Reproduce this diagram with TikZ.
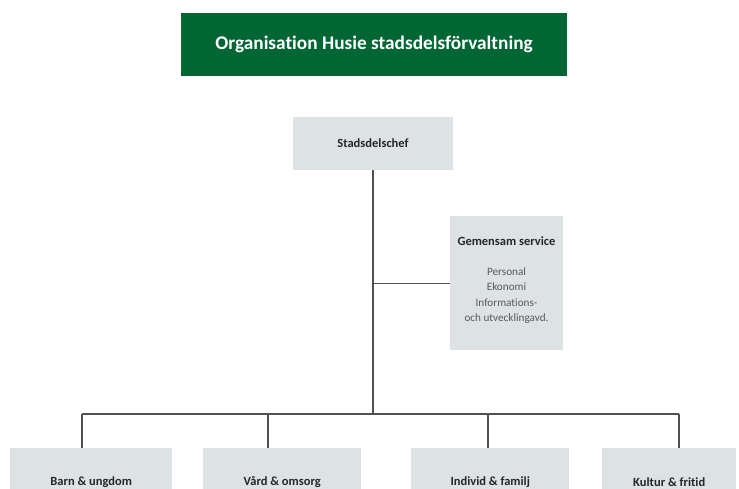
\documentclass[tikz,border=0pt]{standalone}
\usepackage{fontspec}
\setmainfont{Carlito}[Ligatures=NoCommon]
\definecolor{husiegreen}{HTML}{006633}
\definecolor{boxgrey}{HTML}{DDE2E5}
\definecolor{linegrey}{HTML}{505050}
\begin{document}
\begin{tikzpicture}[x=1pt,y=-1pt,
    unitbox/.style={fill=boxgrey, inner sep=0pt, font=\bfseries\fontsize{12.5}{14}\selectfont, text=black!85},
    orgline/.style={draw=linegrey, line width=1.3pt}]
    \useasboundingbox (0,0) rectangle (739,489);
    % title
    \node[fill=husiegreen, text=white, minimum width=386pt, minimum height=63pt, inner sep=0pt,
        font=\bfseries\fontsize{19.3}{22}\selectfont] (title) at (374,44.5) {Organisation Husie stadsdelsförvaltning};
    % top and staff unit
    \node[unitbox, minimum width=160pt, minimum height=53pt] (chef) at (373,143.5) {Stadsdelschef};
    \node[unitbox, minimum width=113pt, minimum height=134pt, anchor=north west] (service) at (450,216) {};
    \node[font=\bfseries\fontsize{12.5}{14}\selectfont, text=black!85] (servicehead) at (506.5,241) {Gemensam service};
    \node[align=center, font=\fontsize{11.2}{15.5}\selectfont, text=black!65, anchor=north] (servicebody) at (506.5,264)
        {Personal\\Ekonomi\\Informations-\\och utvecklingavd.};
    % departments (cut off by the lower edge)
    \node[unitbox, minimum width=162pt, minimum height=68pt, anchor=north west] (barn) at (10,448) {Barn \& ungdom};
    \node[unitbox, minimum width=158pt, minimum height=68pt, anchor=north west] (vard) at (203,448) {Vård \& omsorg};
    \node[unitbox, minimum width=158pt, minimum height=68pt, anchor=north west] (individ) at (411,448) {Individ \& familj};
    \node[unitbox, minimum width=134pt, minimum height=68pt, anchor=north west] (kultur) at (602,448) {Kultur \& fritid};
    % connectors
    \coordinate (busL) at (82,414);
    \coordinate (busR) at (679,414);
    \draw[orgline] (chef.south) -- (chef.south |- busL);
    \draw[orgline] (service.west) -- (service.west -| chef.south);
    \draw[orgline] (busL) -- (busR);
    \foreach \dept/\xpos in {barn/82, vard/268, individ/488, kultur/679}
    \draw[orgline] (\xpos,414) -- (\dept.north -| {(\xpos,0)});
\end{tikzpicture}
\end{document}
